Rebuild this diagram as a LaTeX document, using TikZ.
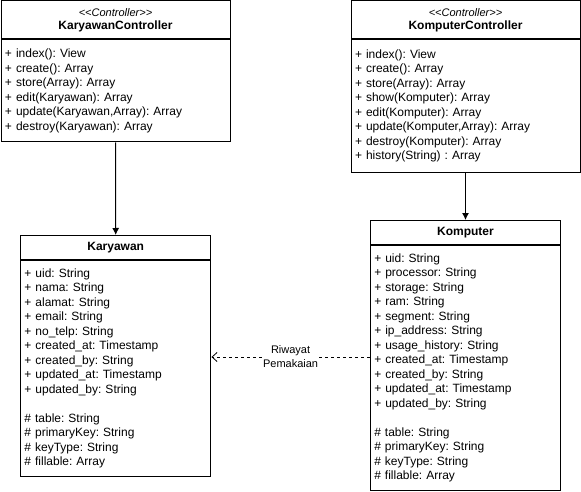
\documentclass[tikz,border=0pt]{standalone}
\usepackage{fontspec}
\setmainfont{Liberation Sans}
\frenchspacing
\usetikzlibrary{positioning, arrows.meta}

\begin{document}
\begin{tikzpicture}[x=1pt, y=-1pt,
		classhead/.style={draw, rectangle, line width=1pt, inner sep=0pt, align=center, font=\fontsize{12}{13}\selectfont\bfseries},
		classbody/.style={draw, rectangle, line width=1pt, inner xsep=4pt, inner ysep=0pt, align=left, font=\fontsize{12}{14.5}\selectfont}]
		
		\useasboundingbox (0,0) rectangle (581,492);
		
		%Nodes of the controllers
		\node (karyawanControllerHead) at (115.5,20) [classhead, minimum width=229pt, minimum 
		height=38pt]{{\fontsize{11}{13}\selectfont\mdseries\itshape <\kern0pt<Controller>\kern0pt>}\\KaryawanController};
		
		\node (karyawanController) [below=0pt of karyawanControllerHead, classbody, minimum width=229pt, minimum 
		height=102pt, text width=221pt]{+ index(): View\\+ create(): Array\\+ store(Array): Array\\+ edit(Karyawan): Array\\+ update(Karyawan,Array): Array\\+ destroy(Karyawan): Array};
		
		\node (komputerControllerHead) at (465.5,20) [classhead, minimum width=229pt, minimum 
		height=38pt]{{\fontsize{11}{13}\selectfont\mdseries\itshape <\kern0pt<Controller>\kern0pt>}\\KomputerController};
		
		\node (komputerController) [below=0pt of komputerControllerHead, classbody, minimum width=229pt, minimum 
		height=132pt, text width=221pt]{+ index(): View\\+ create(): Array\\+ store(Array): Array\\+ show(Komputer): Array\\+ edit(Komputer): Array\\+ update(Komputer,Array): Array\\+ destroy(Komputer): Array\\+ history(String) : Array};
		
		
		%Nodes of the models
		\node (karyawanHead) at (115.7,247.5) [classhead, minimum width=190.5pt, minimum 
		height=24pt]{Karyawan};
		
		\node (karyawan) [below=0pt of karyawanHead, classbody, minimum width=190.5pt, minimum 
		height=216pt, text width=182.5pt]{+ uid: String\\+ nama: String\\+ alamat: String\\+ email: String\\+ no\_telp: String\\+ created\_at: Timestamp\\+ created\_by: String\\+ updated\_at: Timestamp\\+ updated\_by: String\\[14.5pt]\# table: String\\\# primaryKey: String\\\# keyType: String\\\# fillable: Array};
		
		\node (komputerHead) at (465.5,232.5) [classhead, minimum width=190.5pt, minimum 
		height=24pt]{Komputer};
		
		\node (komputer) [below=0pt of komputerHead, classbody, minimum width=190.5pt, minimum 
		height=245pt, text width=182.5pt]{+ uid: String\\+ processor: String\\+ storage: String\\+ ram: String\\+ segment: String\\+ ip\_address: String\\+ usage\_history: String\\+ created\_at: Timestamp\\+ created\_by: String\\+ updated\_at: Timestamp\\+ updated\_by: String\\[14.5pt]\# table: String\\\# primaryKey: String\\\# keyType: String\\\# fillable: Array};
		
		
		%Links
		\draw[-{Latex[length=7pt,width=7pt]}, line width=1pt] (karyawanController.south) -- (karyawanHead.north);
		
		\draw[-{Latex[length=7pt,width=7pt]}, line width=1pt] (komputerController.south) -- (komputerHead.north);
		
		\coordinate (usageStart) at ([yshift=11pt]komputer.west);
		\draw[-{Straight Barb[length=5pt,width=9pt]}, line width=0.8pt, dash pattern=on 3pt off 3pt] (usageStart) -- (usageStart -| karyawan.east) 
		node [midway, fill=white, align=center, inner sep=1pt, font=\fontsize{11}{14}\selectfont]{Riwayat\\Pemakaian};
		
\end{tikzpicture}
\end{document}
